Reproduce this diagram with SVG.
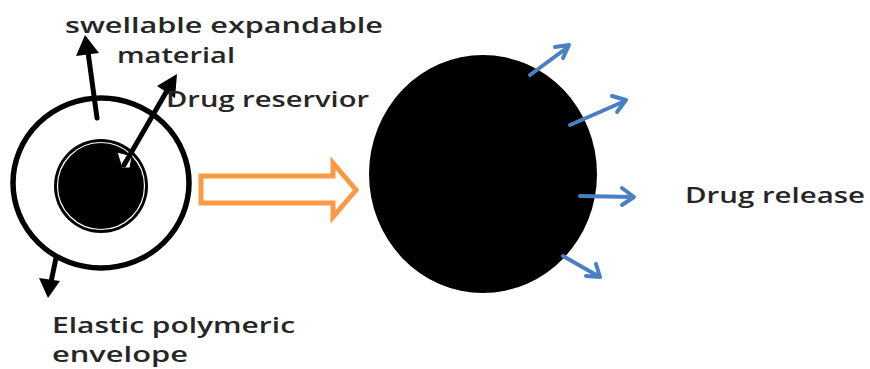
<svg xmlns="http://www.w3.org/2000/svg" width="870" height="369" viewBox="0 0 870 369">
<style>
.t{font-family:"Open Sans","Noto Sans",sans-serif;font-size:21px;font-weight:600;fill:#262626;}
.blk{stroke:#000;stroke-width:5;stroke-linecap:round;fill:none;}
.head{fill:#000;}
.blue{stroke:#4a7fc1;stroke-width:4;stroke-linecap:round;stroke-linejoin:round;fill:none;}
</style>
<rect width="870" height="369" fill="#fff"/>
<g id="capsule">
<ellipse cx="101" cy="183" rx="88" ry="85" fill="none" stroke="#000" stroke-width="5.5"/>
<circle cx="101" cy="186" r="47" fill="#000"/>
<circle cx="101" cy="186" r="43.5" fill="none" stroke="#fff" stroke-width="1.2"/>
<path d="M117,152 L122,168 L130,168 L132,156 Z" fill="#fff" stroke="#000" stroke-width="1"/>
</g>
<g id="swollen">
<ellipse cx="483" cy="174" rx="114" ry="119" fill="#000"/>
</g>
<g id="transition-arrow">
<path d="M201,176 L333,176 L333,163 L356,190 L333,217 L333,203 L201,203 Z" fill="#fff" stroke="#fa9a45" stroke-width="5" stroke-linejoin="miter"/>
</g>
<g id="connectors">
<line class="blk" x1="97" y1="118" x2="88" y2="52"/>
<polygon class="head" points="85,35 76,56 99,53"/>
<line class="blk" x1="124" y1="165" x2="168" y2="89"/>
<polygon class="head" points="177,74 157,86 175,98"/>
<line class="blk" x1="56" y1="258" x2="51" y2="282"/>
<polygon class="head" points="48,298 39,278 60,281"/>
<g id="release-arrows">
<path class="blue" d="M530,75 L568,47 M555,47 L569,45 L563,58"/>
<path class="blue" d="M570,125 L625,101 M612,96 L626,100 L617,112"/>
<path class="blue" d="M580,196 L633,197 M622,188 L634,197 L622,205"/>
<path class="blue" d="M563,256 L598,276 M596,264 L600,277 L586,276"/>
</g>
</g>
<g id="labels">
<text class="t" x="65" y="33" textLength="318" lengthAdjust="spacingAndGlyphs">swellable expandable</text>
<text class="t" x="117" y="63" textLength="118" lengthAdjust="spacingAndGlyphs">material</text>
<text class="t" x="166" y="107" textLength="203" lengthAdjust="spacingAndGlyphs">Drug reservior</text>
<text class="t" x="685" y="203" textLength="180" lengthAdjust="spacingAndGlyphs">Drug release</text>
<text class="t" x="52" y="333" textLength="243" lengthAdjust="spacingAndGlyphs">Elastic polymeric</text>
<text class="t" x="52" y="362" textLength="136" lengthAdjust="spacingAndGlyphs">envelope</text>
</g>
</svg>
